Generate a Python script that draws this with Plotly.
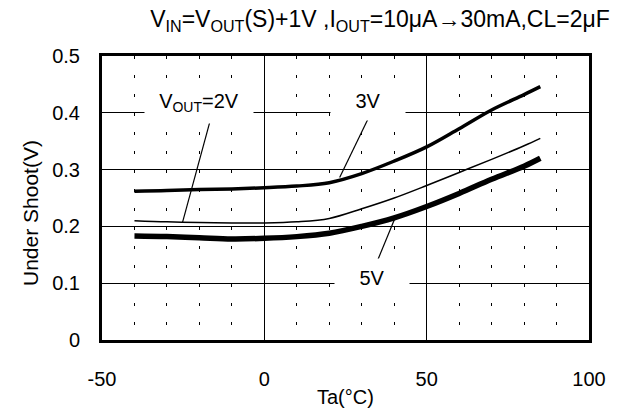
import plotly.graph_objects as go

# Under shoot vs ambient temperature
ta = [-40, -30, -20, -10, 0, 10, 20, 30, 40, 50, 60, 70, 80, 85]
vout_2v = [0.210, 0.208, 0.207, 0.206, 0.206, 0.208, 0.214, 0.231, 0.250, 0.272, 0.295, 0.318, 0.342, 0.355]
vout_3v = [0.262, 0.263, 0.265, 0.266, 0.268, 0.271, 0.277, 0.293, 0.315, 0.340, 0.372, 0.405, 0.432, 0.446]
vout_5v = [0.183, 0.182, 0.180, 0.178, 0.179, 0.182, 0.188, 0.200, 0.215, 0.235, 0.258, 0.283, 0.306, 0.320]

x_ticks = [-50, 0, 50, 100]
x_tick_text = ["-50", "0", "50", "100"]
y_ticks = [0, 0.1, 0.2, 0.3, 0.4, 0.5]
y_tick_text = ["0", "0.1", "0.2", "0.3", "0.4", "0.5"]

FONT = "Liberation Sans, Arial, sans-serif"
W, H = 613, 406  # page body has an 8px margin

fig = go.Figure()
fig.add_trace(go.Scatter(x=ta, y=vout_2v, mode="lines", line=dict(color="black", width=1.5, shape="spline")))
fig.add_trace(go.Scatter(x=ta, y=vout_3v, mode="lines", line=dict(color="black", width=3.5, shape="spline")))
fig.add_trace(go.Scatter(x=ta, y=vout_5v, mode="lines", line=dict(color="black", width=5.5, shape="spline")))

# leader lines for the curve labels
leaders = [
    (-16.3, 0.394, -25.2, 0.207),
    (32.0, 0.390, 23.2, 0.286),
    (34.3, 0.132, 40.2, 0.214),
]
for x0, y0, x1, y1 in leaders:
    fig.add_shape(type="line", x0=x0, y0=y0, x1=x1, y1=y1, line=dict(color="black", width=1.2))

labels = [
    ("V<sub>OUT</sub>=2V", -20.2, 0.419, 92),
    ("3V", 32.0, 0.421, 58),
    ("5V", 33.2, 0.110, 58),
]
for text, x, y, w in labels:
    fig.add_annotation(
        x=x, y=y, text=text, showarrow=False, bgcolor="white",
        width=w, borderpad=8, font=dict(size=20, color="black", family=FONT),
    )

# axis titles as annotations (pixel offsets from the plot edges)
fig.add_annotation(
    x=0, y=0.5, xref="paper", yref="paper", text="Under Shoot(V)", showarrow=False,
    textangle=-90, xanchor="center", yanchor="middle", xshift=-72, yshift=-15,
    font=dict(size=21, color="black", family=FONT),
)
fig.add_annotation(
    x=0.5, y=0, xref="paper", yref="paper", text="Ta(°C)", showarrow=False,
    xanchor="center", yanchor="middle", yshift=-57,
    font=dict(size=20, color="black", family=FONT),
)

fig.update_layout(
    width=W,
    height=H,
    margin=dict(l=94, r=W - 581, t=48, b=H - 332),
    paper_bgcolor="white",
    plot_bgcolor="white",
    showlegend=False,
    title=dict(
        text="V<sub>IN</sub>=V<sub>OUT</sub>(S)+1V ,I<sub>OUT</sub>=10μA→30mA,CL=2μF",
        x=372 / W, xanchor="center", y=1 - 11 / H, yanchor="middle",
        font=dict(size=23, color="black", family=FONT),
    ),
    font=dict(family=FONT, color="black", size=20),
)
fig.update_xaxes(
    range=[-50, 100],
    tickvals=x_ticks,
    ticktext=x_tick_text,
    ticks="",
    showline=True, linecolor="black", linewidth=3, mirror=True,
    showgrid=True, gridcolor="black", gridwidth=1,
    minor=dict(dtick=10, showgrid=True, gridcolor="black", gridwidth=1, griddash="3px,16px"),
    zeroline=False,
    automargin=False,
    ticklabelstandoff=19,
    tickfont=dict(size=20),
)
fig.update_yaxes(
    range=[0, 0.5],
    tickvals=y_ticks,
    ticktext=y_tick_text,
    ticks="",
    showline=True, linecolor="black", linewidth=3, mirror=True,
    showgrid=True, gridcolor="black", gridwidth=1,
    zeroline=False,
    automargin=False,
    ticklabelstandoff=15,
    tickfont=dict(size=20),
)

fig.write_html("out.html")
